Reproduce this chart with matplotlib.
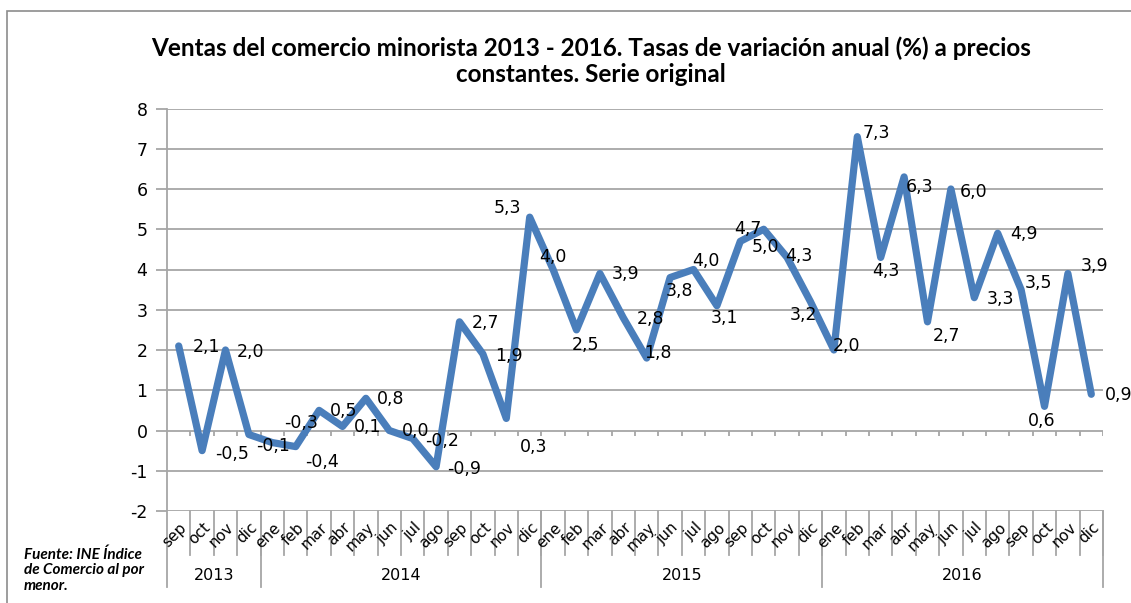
import matplotlib.pyplot as plt
from matplotlib.patches import Rectangle

plt.rcParams["axes.unicode_minus"] = False

# Data
months = ["sep", "oct", "nov", "dic",
          "ene", "feb", "mar", "abr", "may", "jun", "jul", "ago", "sep", "oct", "nov", "dic",
          "ene", "feb", "mar", "abr", "may", "jun", "jul", "ago", "sep", "oct", "nov", "dic",
          "ene", "feb", "mar", "abr", "may", "jun", "jul", "ago", "sep", "oct", "nov", "dic"]
years = ["2013", "2014", "2015", "2016"]
months_per_year = [4, 12, 12, 12]
values = [2.1, -0.5, 2.0, -0.1,
          -0.3, -0.4, 0.5, 0.1, 0.8, 0.0, -0.2, -0.9, 2.7, 1.9, 0.3, 5.3,
          4.0, 2.5, 3.9, 2.8, 1.8, 3.8, 4.0, 3.1, 4.7, 5.0, 4.3, 3.2,
          2.0, 7.3, 4.3, 6.3, 2.7, 6.0, 3.3, 4.9, 3.5, 0.6, 3.9, 0.9]

# label offsets in pixels (dx right, dy down) from each point
label_offsets = [(28, 1), (30, 3), (25, 2), (24, 11),
                 (29, -20), (26, 15), (25, 1), (25, 1), (25, 1), (26, 1), (29, 2), (28, 2),
                 (26, 1), (26, 2), (27, 29), (-22, -9),
                 (0, -13), (9, 15), (26, 0), (27, 1), (11, -5), (9, 13), (12, -9), (8, 12),
                 (8, -12), (2, 18), (12, -1), (-7, 13),
                 (13, -4), (19, -4), (5, 14), (15, 10), (19, 14), (23, 3), (26, 1), (26, 1),
                 (17, -7), (-3, 15), (27, -8), (27, 1)]

blue = "#4a7ebb"
grid = "#a6a6a6"

fig = plt.figure(figsize=(11.31, 6.03), dpi=100)
ax = fig.add_axes([167 / 1131, 1 - 511 / 603, 936 / 1131, 402.5 / 603])

n = len(values)
x = list(range(n))

ax.set_xlim(-0.5, n - 0.5)
ax.set_ylim(-2, 8)
ax.set_yticks(range(-2, 9))
ax.yaxis.grid(True, color=grid, linewidth=1.3)
ax.set_axisbelow(True)
for s in ["top", "right", "bottom", "left"]:
    ax.spines[s].set_visible(False)
ax.set_xticks([])
ax.tick_params(axis="y", length=8, color=grid, width=1.3, labelsize=12.5, pad=6)

# left axis line running down through the category labels
xt = ax.get_xaxis_transform()
ax.plot([-0.5, -0.5], [-0.189, 1], color=grid, lw=1.3, transform=xt, clip_on=False)

# zero line tick marks
ax.vlines([i + 0.5 for i in range(n)], -0.13, 0, color=grid, lw=1.3)

# month separators and labels
for i in range(n):
    ax.plot([i + 0.5, i + 0.5], [0, -0.109], color=grid, lw=1.3, transform=xt, clip_on=False)
    ax.text(i + 0.25, -0.035, months[i], transform=xt, rotation=45, ha="right", va="center",
            rotation_mode="anchor", fontsize=11, family="DejaVu Sans")

# year separators and labels
start = -0.5
for yr, cnt in zip(years, months_per_year):
    end = start + cnt
    ax.plot([end, end], [0, -0.189], color=grid, lw=1.3, transform=xt, clip_on=False)
    ax.text((start + end) / 2, -0.161, yr, transform=xt, ha="center", va="center", fontsize=11.5)
    start = end

ax.plot(x, values, color=blue, lw=5.2, solid_joinstyle="round", solid_capstyle="round")

for xi, v, (dx, dy) in zip(x, values, label_offsets):
    ax.annotate(f"{v:.1f}".replace(".", ","), (xi, v), xytext=(dx, -dy),
                textcoords="offset pixels", ha="center", va="center", fontsize=12.5)

fig.text(591 / 1131, 1 - 48 / 603,
         "Ventas del comercio minorista 2013 - 2016. Tasas de variación anual (%) a precios",
         ha="center", va="center", fontsize=17.5, fontweight="bold", family="Lato")
fig.text(591 / 1131, 1 - 74 / 603, "constantes. Serie original",
         ha="center", va="center", fontsize=17.5, fontweight="bold", family="Lato")

fig.text(24 / 1131, 1 - 570 / 603, "Fuente: INE Índice\nde Comercio al por\nmenor.",
         ha="left", va="center", fontsize=11, fontweight="bold", style="italic",
         family="Lato", linespacing=1.15)

# chart border
fig.patches.append(Rectangle((7 / 1131, -0.1), 2, 1 - 11 / 603 + 0.1, transform=fig.transFigure,
                             fill=False, edgecolor="#8c8c8c", lw=1.2))

fig.savefig("out.png", dpi=100)
